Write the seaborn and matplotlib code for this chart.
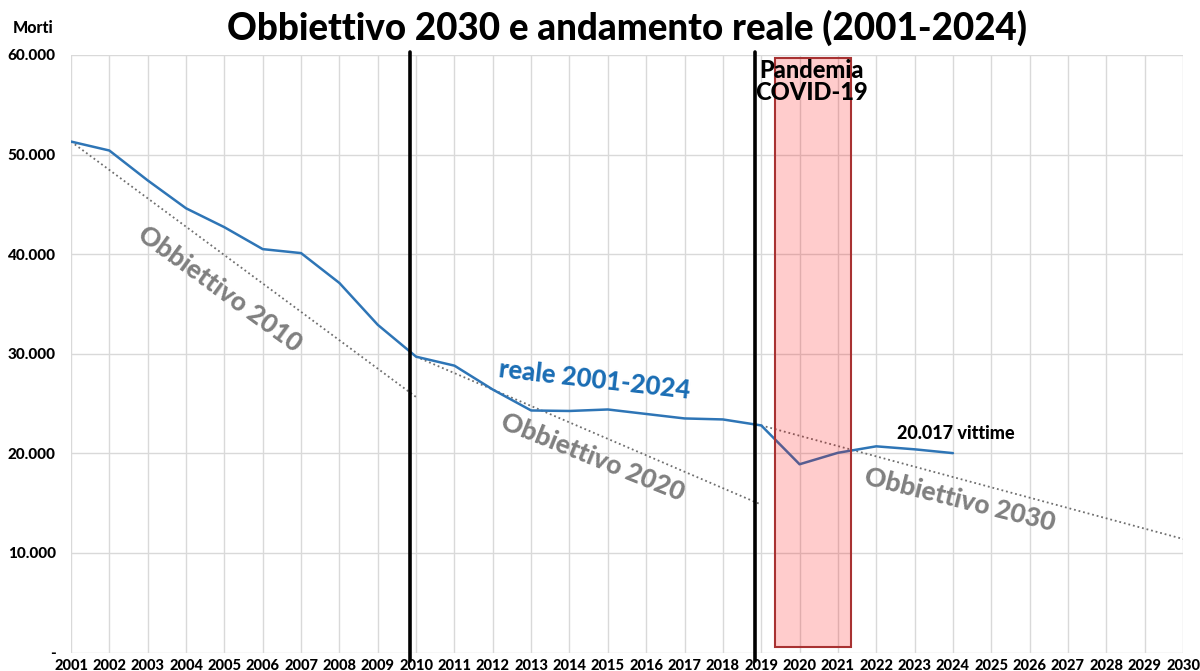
import matplotlib
matplotlib.use("Agg")
import matplotlib.pyplot as plt
import matplotlib.ticker as mticker
from matplotlib.patches import Rectangle
import seaborn as sns

# Dati: morti reali 2001-2024
anni = list(range(2001, 2025))
morti = [51300, 50400, 47400, 44600, 42700, 40500, 40100, 37100, 32900, 29700,
         28800, 26400, 24300, 24250, 24400, 23950, 23500, 23400, 22800, 18900,
         20050, 20700, 20400, 20017]

# Obiettivi (dimezzamento)
ob2010_anni = [2001, 2010]
ob2010_valori = [51300, 25650]
ob2020_anni = [2010, 2019]
ob2020_valori = [29700, 14850]
ob2030_anni = [2019, 2030]
ob2030_valori = [22800, 11400]

anni_asse = list(range(2001, 2031))
y_ticks = [0, 10000, 20000, 30000, 40000, 50000, 60000]

# Stile
sns.set_theme(style="whitegrid")
plt.rcParams['font.family'] = ['Lato', 'DejaVu Sans']
PESO = 'black'

fig = plt.figure(figsize=(12, 6.71), dpi=100)
ax = fig.add_axes([0.05917, 0.02757, 0.92667, 0.8906])
ax.set_facecolor('white')

grigio = '#808080'
blu = '#2e75b6'

# Linee obiettivo (puntinate)
for xa, ya in [(ob2010_anni, ob2010_valori), (ob2020_anni, ob2020_valori),
               (ob2030_anni, ob2030_valori)]:
    ax.plot(xa, ya, color='#6f6f6f', lw=1.3, linestyle=(0, (1, 1.6)), zorder=3)

# Andamento reale
sns.lineplot(x=anni, y=morti, ax=ax, color=blu, linewidth=1.8, zorder=4)

# Linee verticali nere
for xv in [2009.83, 2018.85]:
    ax.plot([xv, xv], [60300, -900], color='black', lw=2.6, clip_on=False, zorder=5)

# Pandemia
ax.add_patch(Rectangle((2019.36, 600), 1.99, 59100, facecolor=(1, 0, 0, 0.2),
                       edgecolor='#a83232', lw=1.5, zorder=6))
ax.text(2020.3, 57350, 'Pandemia\nCOVID-19', ha='center', va='center',
        fontsize=17, fontweight=PESO, color='black', linespacing=0.92, zorder=7)

# Etichette
ax.text(2004.89, 36530, 'Obbiettivo 2010', rotation=-36, rotation_mode='anchor',
        ha='center', va='center', fontsize=19, fontweight=PESO, color=grigio)
ax.text(2014.61, 19630, 'Obbiettivo 2020', rotation=-22, rotation_mode='anchor',
        ha='center', va='center', fontsize=19, fontweight=PESO, color=grigio)
ax.text(2024.19, 15330, 'Obbiettivo 2030', rotation=-14, rotation_mode='anchor',
        ha='center', va='center', fontsize=19, fontweight=PESO, color=grigio)
ax.text(2014.64, 27330, 'reale 2001-2024', rotation=-6.5, rotation_mode='anchor',
        ha='center', va='center', fontsize=18.5, fontweight=PESO, color='#1a6db4')
ax.text(2024.07, 22030, '20.017 vittime', ha='center', va='center',
        fontsize=13, fontweight=PESO, color='black')

# Assi
ax.set_xlim(2001, 2030)
ax.set_ylim(0, 60000)
ax.set_xticks(anni_asse)
ax.set_xticklabels([str(a) for a in anni_asse])
ax.set_yticks(y_ticks)
ax.yaxis.set_major_formatter(mticker.FuncFormatter(
    lambda v, p: '-' if v == 0 else f'{int(v):,}'.replace(',', '.')))
ax.grid(True, color='#d9d9d9', lw=1)
ax.tick_params(axis='x', length=0, pad=5, labelsize=10.5)
ax.tick_params(axis='y', length=0, pad=11, labelsize=11)
for lab in ax.get_xticklabels() + ax.get_yticklabels():
    lab.set_fontweight(PESO)
    lab.set_color('black')
for s in ax.spines.values():
    s.set_visible(False)
ax.set_xlabel('')
ax.set_ylabel('')

fig.text(0.5225, 0.958, 'Obbiettivo 2030 e andamento reale (2001-2024)', ha='center',
         va='center', fontsize=26.5, fontweight=PESO, color='black')
fig.text(0.0275, 0.958, 'Morti', ha='center', va='center', fontsize=11.5,
         fontweight=PESO, color='black')

fig.savefig('out.png', dpi=100, facecolor='white')
